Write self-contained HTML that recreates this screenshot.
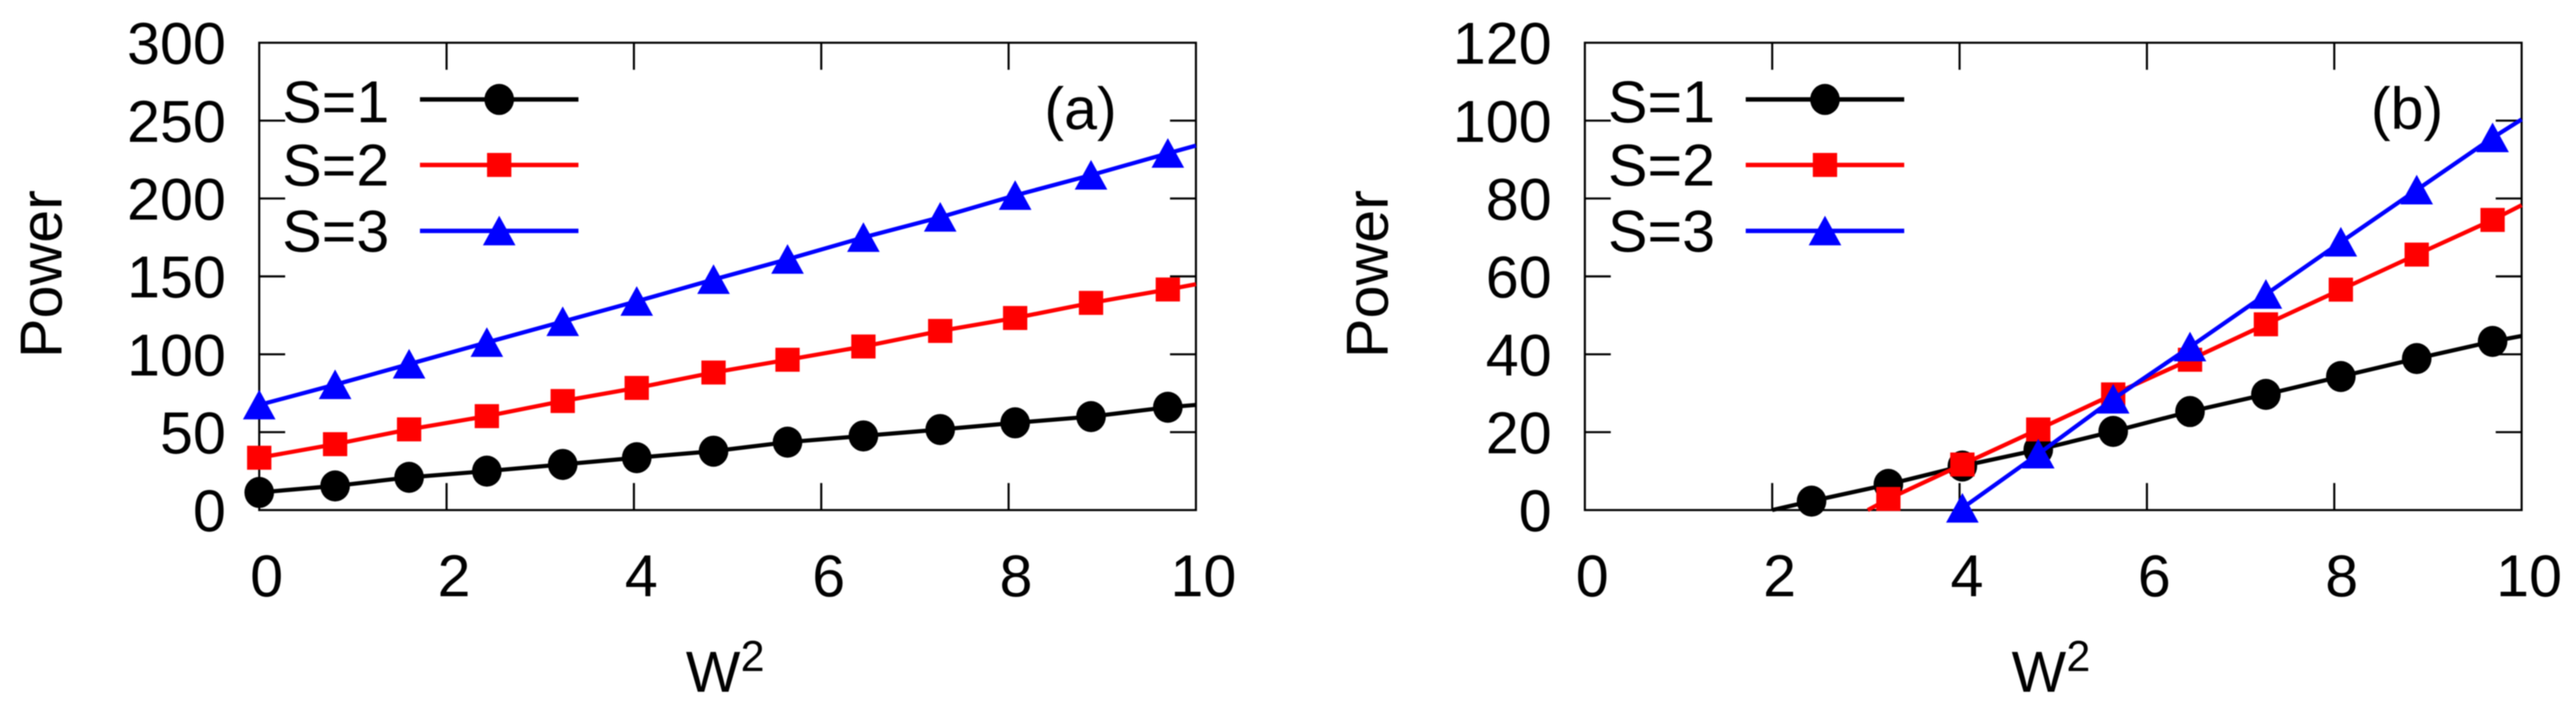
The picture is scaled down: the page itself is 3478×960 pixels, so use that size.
<!DOCTYPE html>
<html lang="en">
<head>
<meta charset="utf-8">
<title>Power versus W squared</title>
<style>
html,body{margin:0;padding:0;background:#fff;}
svg{display:block;filter:blur(0.7px);}
text{font-family:"Liberation Sans",Arial,sans-serif;fill:#000;}
</style>
</head>
<body>
<svg id="figure" xmlns="http://www.w3.org/2000/svg" width="3478" height="960" viewBox="0 0 3478 960"></svg>
<script>
// ---- shared chart data ----
const xTickValues = [0, 2, 4, 6, 8, 10];
const seriesLabels = ['S=1', 'S=2', 'S=3'];
const seriesKeys = ['s1', 's2', 's3'];
const seriesColors = ['#000000', '#ff0000', '#0000ff'];
const seriesShapes = ['circle', 'square', 'triangle'];

// ---- panel (a) data ----
const xA = [0, 0.81, 1.6, 2.43, 3.24, 4.03, 4.85, 5.64, 6.45, 7.27, 8.07, 8.88, 9.7];
const aS1 = [11.3, 15.5, 21, 25, 29.3, 33.6, 37.8, 43.6, 47.6, 51.7, 56, 60, 66];
const aS2 = [33.6, 42.3, 51.8, 60.3, 70, 78.4, 88.3, 96.5, 105, 115, 123.3, 133, 141.6];
const aS3 = [67.5, 80.5, 93.7, 107.6, 121, 134, 148, 161, 175, 188, 202, 215, 229];
const aEnds = [67.5, 145, 234];
const aStarts = [null, null, null];
const aYTicks = [0, 50, 100, 150, 200, 250, 300];

// ---- panel (b) data ----
const xB = [2.42, 3.24, 4.03, 4.84, 5.64, 6.46, 7.27, 8.07, 8.88, 9.69];
const bS1 = [2.3, 6.6, 11.3, 15.5, 20.2, 25.3, 29.7, 34.3, 38.9, 43.3];
const bS2 = [null, 2.85, 11.7, 20.7, 29.7, 38.6, 47.7, 56.6, 65.6, 74.5];
const bS3 = [null, null, 0.5, 14.4, 28.5, 41.9, 55.4, 68.8, 82.2, 95.6];
const bEnds = [44.7, 78.3, 100.3];
const bStarts = [[2, 0], [3.02, 0], null];
const bYTicks = [0, 20, 40, 60, 80, 100, 120];

const SVG_NS = 'http://www.w3.org/2000/svg';
const root = document.getElementById('figure');

function make(tag, parent, props) {
  const node = document.createElementNS(SVG_NS, tag);
  for (const k in props) node.setAttribute(k, props[k]);
  parent.appendChild(node);
  return node;
}

function drawMarker(parent, shape, cx, cy, color) {
  let m;
  if (shape === 'circle') {
    m = make('ellipse', parent, {cx: cx, cy: cy, rx: 20, ry: 21, fill: color});
  } else if (shape === 'square') {
    m = make('rect', parent, {x: cx - 16.4, y: cy - 16.2, width: 32.8, height: 32.4, fill: color});
  } else {
    m = make('polygon', parent, {points: (cx) + ',' + (cy - 20.5) + ' ' + (cx + 22) + ',' + (cy + 19.5) + ' ' + (cx - 22) + ',' + (cy + 19.5), fill: color});
  }
  
  
  return m;
}

function drawPanel(cfg) {
  const left = cfg.left, right = cfg.right, top = 57.7, bottom = 688.7;
  const xScale = function (v) { return left + (v / 10) * (right - left); };
  const yScale = function (v) { return bottom - (v / cfg.yMax) * (bottom - top); };

  const panel = make('g', root, {});
  
  

  const axes = make('g', panel, {stroke: '#000', 'stroke-width': 2.8, fill: 'none'});
  
  
  make('rect', axes, {x: left, y: top, width: right - left, height: bottom - top});

  xTickValues.forEach(function (t) {
    const x = xScale(t);
    if (t > 0 && t < 10) {
      make('line', axes, {x1: x, x2: x, y1: bottom, y2: bottom - 36.5});
      make('line', axes, {x1: x, x2: x, y1: top, y2: top + 36.5});
    }
    const label = make('text', panel, {x: x + 10, y: 805, 'font-size': 80, 'text-anchor': 'middle'});
    label.textContent = String(t);
    
    
  });

  cfg.yTicks.forEach(function (t) {
    const y = yScale(t);
    if (t > 0 && t < cfg.yMax) {
      make('line', axes, {x1: left, x2: left + 35, y1: y, y2: y});
      make('line', axes, {x1: right, x2: right - 35, y1: y, y2: y});
    }
    const label = make('text', panel, {x: cfg.yLabelX, y: y + 28.5, 'font-size': 80, 'text-anchor': 'end'});
    label.textContent = String(t);
    
    
  });

  const yTitle = make('text', panel, {'font-size': 80, 'text-anchor': 'middle', transform: 'translate(' + cfg.yTitleX + ' 370) rotate(-90)'});
  yTitle.textContent = 'Power';
  
  

  const xTitle = make('text', panel, {x: cfg.xTitleX, y: 934, 'font-size': 78});
  xTitle.textContent = 'W';
  
  

  const xTitleSup = make('text', panel, {x: cfg.xTitleX + 74, y: 906, 'font-size': 58});
  xTitleSup.textContent = '2';
  
  

  const tag = make('text', panel, {x: cfg.tagX, y: 174, 'font-size': 80});
  tag.textContent = '(' + cfg.id + ')';
  
  

  cfg.series.forEach(function (values, i) {
    const g = make('g', panel, {});
    
    

    const pts = [];
    if (cfg.starts[i]) pts.push([xScale(cfg.starts[i][0]), yScale(cfg.starts[i][1])]);
    values.forEach(function (v, j) {
      if (v !== null) pts.push([xScale(cfg.xs[j]), yScale(v)]);
    });
    pts.push([xScale(10), yScale(cfg.ends[i])]);

    const line = make('polyline', g, {
      points: pts.map(function (p) { return p[0].toFixed(2) + ',' + p[1].toFixed(2); }).join(' '),
      fill: 'none', stroke: seriesColors[i], 'stroke-width': 5.6
    });
    
    

    values.forEach(function (v, j) {
      if (v !== null) drawMarker(g, seriesShapes[i], xScale(cfg.xs[j]), yScale(v), seriesColors[i]);
    });
  });

  seriesLabels.forEach(function (name, i) {
    const g = make('g', panel, {});
    
    
    const ly = [134.3, 222.7, 311.7][i];
    const by = [165, 250.7, 339.3][i];
    const text = make('text', g, {x: cfg.legendTextX, y: by, 'font-size': 80});
    text.textContent = name;
    
    
    const sample = make('line', g, {x1: cfg.legendLineX, x2: cfg.legendLineX + 214, y1: ly, y2: ly, stroke: seriesColors[i], 'stroke-width': 6});
    
    
    drawMarker(g, seriesShapes[i], cfg.legendLineX + 107, ly, seriesColors[i]);
  });
}

drawPanel({
  id: 'a', left: 350, right: 1614.7, yMax: 300, yTicks: aYTicks, xs: xA,
  series: [aS1, aS2, aS3], ends: aEnds, starts: aStarts,
  yLabelX: 305, yTitleX: 83, xTitleX: 926, tagX: 1410, legendTextX: 381, legendLineX: 567
});

drawPanel({
  id: 'b', left: 2139.8, right: 3404.6, yMax: 120, yTicks: bYTicks, xs: xB,
  series: [bS1, bS2, bS3], ends: bEnds, starts: bStarts,
  yLabelX: 2095, yTitleX: 1873.4, xTitleX: 2716, tagX: 3201, legendTextX: 2171, legendLineX: 2357
});
</script>
</body>
</html>
